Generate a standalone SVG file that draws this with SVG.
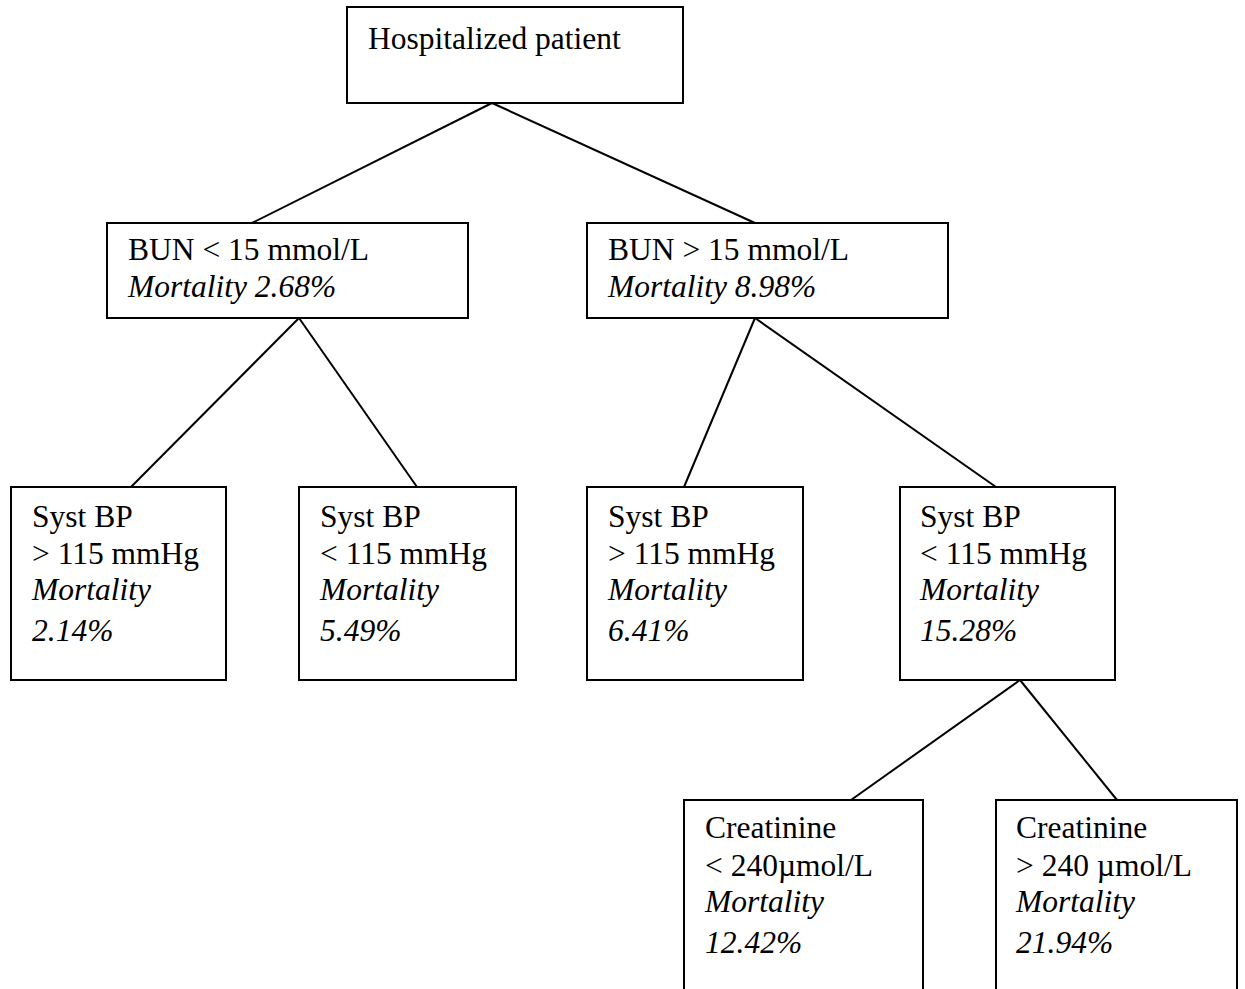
<svg xmlns="http://www.w3.org/2000/svg" width="1245" height="989" viewBox="0 0 1245 989">
<style>
.box{fill:#fff;stroke:#000;stroke-width:2}
.t{font-family:"Liberation Serif","Times New Roman",serif;font-size:31.5px;fill:#000}
.i{font-style:italic}
.c{stroke:#000;stroke-width:2;fill:none}
</style>
<rect width="1245" height="989" fill="#fff"/>
<g id="connectors">
<line class="c" x1="492" y1="103" x2="252" y2="223"/>
<line class="c" x1="492" y1="103" x2="755" y2="223"/>
<line class="c" x1="299" y1="318" x2="131" y2="487"/>
<line class="c" x1="299" y1="318" x2="417" y2="487"/>
<line class="c" x1="755" y1="318" x2="684" y2="487"/>
<line class="c" x1="755" y1="318" x2="996" y2="487"/>
<line class="c" x1="1020" y1="680" x2="851" y2="800"/>
<line class="c" x1="1020" y1="680" x2="1117" y2="800"/>
</g>
<g id="root">
<rect class="box" x="347" y="7" width="336" height="96"/>
<text class="t" x="368" y="49">Hospitalized patient</text>
</g>
<g id="bun-low">
<rect class="box" x="107" y="223" width="361" height="95"/>
<text class="t" x="128" y="260">BUN &lt; 15 mmol/L</text>
<text class="t i" x="128" y="297">Mortality 2.68%</text>
</g>
<g id="bun-high">
<rect class="box" x="587" y="223" width="361" height="95"/>
<text class="t" x="608" y="260">BUN &gt; 15 mmol/L</text>
<text class="t i" x="608" y="297">Mortality 8.98%</text>
</g>
<g id="sbp1">
<rect class="box" x="11" y="487" width="215" height="193"/>
<text class="t" x="32" y="527">Syst BP</text>
<text class="t" x="32" y="564">&gt; 115 mmHg</text>
<text class="t i" x="32" y="600">Mortality</text>
<text class="t i" x="32" y="641">2.14%</text>
</g>
<g id="sbp2">
<rect class="box" x="299" y="487" width="217" height="193"/>
<text class="t" x="320" y="527">Syst BP</text>
<text class="t" x="320" y="564">&lt; 115 mmHg</text>
<text class="t i" x="320" y="600">Mortality</text>
<text class="t i" x="320" y="641">5.49%</text>
</g>
<g id="sbp3">
<rect class="box" x="587" y="487" width="216" height="193"/>
<text class="t" x="608" y="527">Syst BP</text>
<text class="t" x="608" y="564">&gt; 115 mmHg</text>
<text class="t i" x="608" y="600">Mortality</text>
<text class="t i" x="608" y="641">6.41%</text>
</g>
<g id="sbp4">
<rect class="box" x="900" y="487" width="215" height="193"/>
<text class="t" x="920" y="527">Syst BP</text>
<text class="t" x="920" y="564">&lt; 115 mmHg</text>
<text class="t i" x="920" y="600">Mortality</text>
<text class="t i" x="920" y="641">15.28%</text>
</g>
<g id="creat1">
<rect class="box" x="684" y="800" width="239" height="200"/>
<text class="t" x="705" y="838">Creatinine</text>
<text class="t" x="705" y="876">&lt; 240µmol/L</text>
<text class="t i" x="705" y="912">Mortality</text>
<text class="t i" x="705" y="953">12.42%</text>
</g>
<g id="creat2">
<rect class="box" x="996" y="800" width="241" height="200"/>
<text class="t" x="1016" y="838">Creatinine</text>
<text class="t" x="1016" y="876">&gt; 240 µmol/L</text>
<text class="t i" x="1016" y="912">Mortality</text>
<text class="t i" x="1016" y="953">21.94%</text>
</g>
</svg>
